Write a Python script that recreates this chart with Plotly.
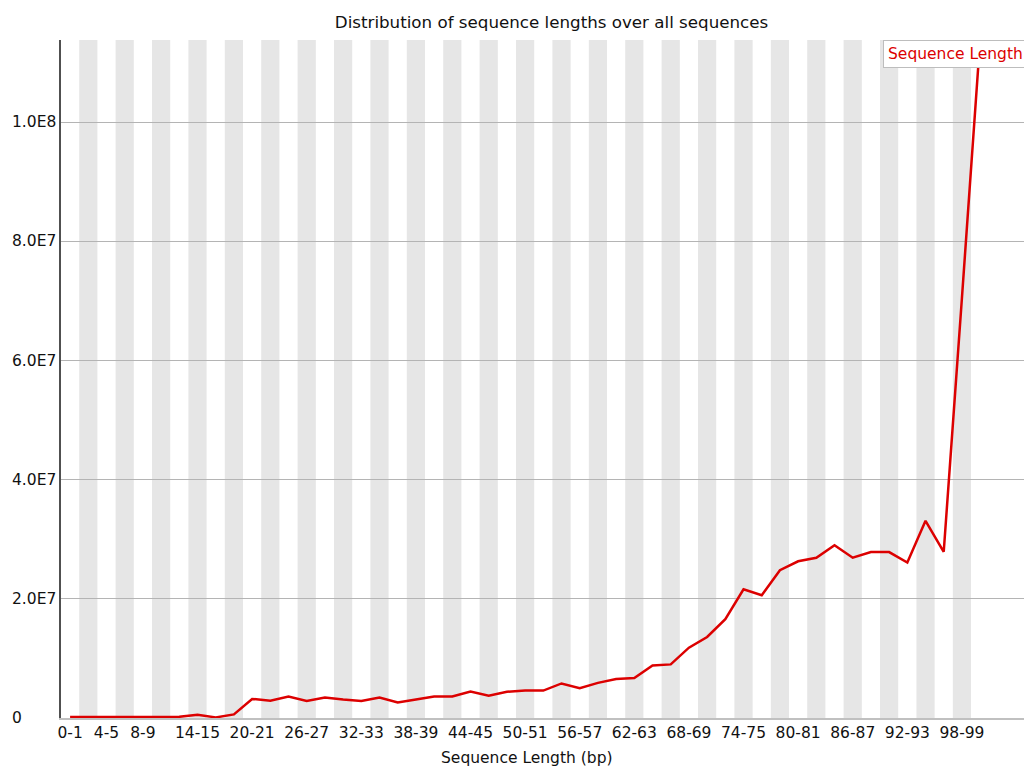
import plotly.graph_objects as go

# Sequence length bins (bp) and read counts
length_bins = ['0-1', '2-3', '4-5', '6-7', '8-9', '10-11', '12-13', '14-15', '16-17', '18-19',
               '20-21', '22-23', '24-25', '26-27', '28-29', '30-31', '32-33', '34-35', '36-37', '38-39',
               '40-41', '42-43', '44-45', '46-47', '48-49', '50-51', '52-53', '54-55', '56-57', '58-59',
               '60-61', '62-63', '64-65', '66-67', '68-69', '70-71', '72-73', '74-75', '76-77', '78-79',
               '80-81', '82-83', '84-85', '86-87', '88-89', '90-91', '92-93', '94-95', '96-97', '98-99',
               '100-101']

read_counts = [0.15e6, 0.15e6, 0.15e6, 0.2e6, 0.15e6, 0.15e6, 0.2e6, 0.55e6, 0.1e6, 0.6e6,
               3.2e6, 2.9e6, 3.6e6, 2.85e6, 3.45e6, 3.1e6, 2.85e6, 3.45e6, 2.6e6, 3.1e6,
               3.6e6, 3.6e6, 4.45e6, 3.75e6, 4.4e6, 4.6e6, 4.6e6, 5.8e6, 5.0e6, 5.9e6,
               6.55e6, 6.7e6, 8.8e6, 9.0e6, 11.8e6, 13.6e6, 16.6e6, 21.6e6, 20.6e6, 24.8e6,
               26.3e6, 26.9e6, 29.0e6, 26.9e6, 27.85e6, 27.85e6, 26.1e6, 33.1e6, 27.9e6, 70.5e6,
               113.8e6]

# which bins get a label on the x axis (FastQC skips the ones that would overlap)
label_idx = [0, 2, 4] + list(range(7, 50, 3))

y_ticks = [0, 2e7, 4e7, 6e7, 8e7, 1e8]
y_tick_text = ['0', '2.0E7', '4.0E7', '6.0E7', '8.0E7', '1.0E8']

FONT = 'DejaVu Sans'
RED = 'rgb(220,0,0)'

x = list(range(len(length_bins)))

fig = go.Figure()

fig.add_trace(
    go.Scatter(
        x=x,
        y=read_counts,
        mode='lines',
        name='Sequence Length',
        line=dict(color=RED, width=2.5),
        showlegend=False,
        cliponaxis=False
    )
)

# alternating grey stripes behind every other bin
for i in range(1, len(length_bins), 2):
    fig.add_shape(
        type='rect', xref='x', yref='paper',
        x0=i - 0.5, x1=i + 0.5, y0=0, y1=1,
        fillcolor='#e6e6e6', line_width=0, layer='below'
    )

# y tick labels are left aligned in the original
for val, txt in zip(y_ticks, y_tick_text):
    fig.add_annotation(
        xref='paper', yref='y', x=0, y=val, xshift=-51,
        text=txt, showarrow=False, xanchor='left', yanchor='middle',
        font=dict(family=FONT, size=15.5, color='#111111')
    )

# legend box (drawn over the line, cut at the right edge)
fig.add_annotation(
    xref='paper', yref='paper', x=(883 - 61) / 971, y=1,
    xanchor='left', yanchor='top', showarrow=False,
    text='Sequence Length', align='left', width=170,
    font=dict(family=FONT, size=15.5, color=RED),
    bgcolor='white', bordercolor='#bdbdbd', borderwidth=1, borderpad=4
)

# x axis title
fig.add_annotation(
    xref='paper', yref='paper', x=(526.7 - 61) / 971, y=0, yshift=-40,
    xanchor='center', yanchor='middle', showarrow=False,
    text='Sequence Length (bp)',
    font=dict(family=FONT, size=15.5, color='#111111')
)

# the page body adds an 8px margin, so the figure is 8px smaller each way
fig.update_layout(
    width=1024,
    height=764,
    margin=dict(l=53, r=0, t=32, b=54),
    paper_bgcolor='white',
    plot_bgcolor='white',
    title=dict(
        text='Distribution of sequence lengths over all sequences',
        x=543.5 / 1024, xanchor='center',
        y=1 - 14 / 764, yanchor='middle',
        font=dict(family=FONT, size=16.7, color='#111111')
    ),
    font=dict(family=FONT, size=15.5, color='#111111')
)

fig.update_xaxes(
    range=[-0.5, 52.85],
    tickmode='array',
    tickvals=label_idx,
    ticktext=[length_bins[i] for i in label_idx],
    ticks='',
    showgrid=False,
    zeroline=False,
    showline=True,
    linecolor='#c0c0c0',
    linewidth=1.5,
    tickfont=dict(family=FONT, size=15.5, color='#111111')
)

fig.update_yaxes(
    range=[0, max(read_counts)],
    tickmode='array',
    tickvals=y_ticks,
    showticklabels=False,
    ticks='',
    showgrid=True,
    gridcolor='#b4b4b4',
    gridwidth=1.3,
    zeroline=False,
    showline=True,
    linecolor='#505050',
    linewidth=1.5
)

fig.write_html("out.html")
